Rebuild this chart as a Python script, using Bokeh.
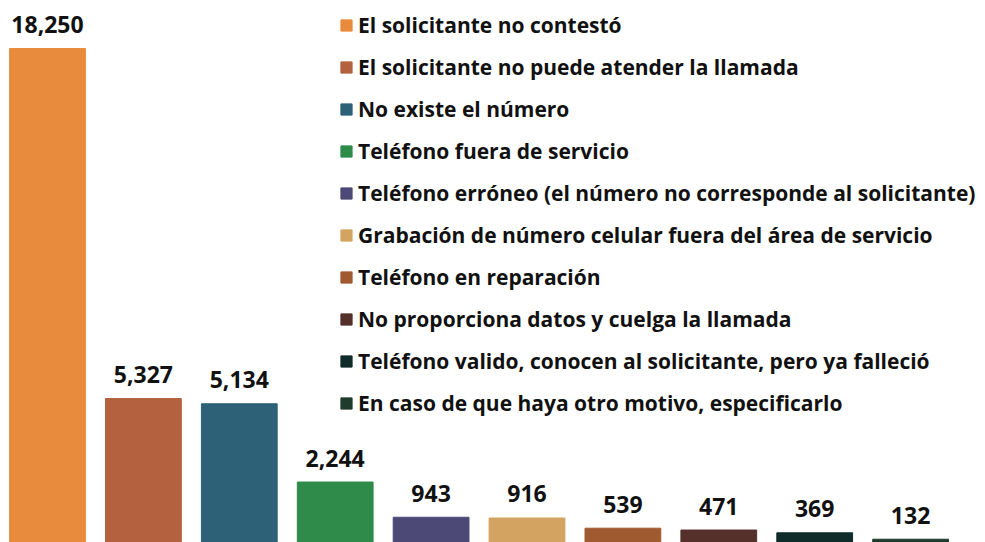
from bokeh.plotting import figure
from bokeh.models import Range1d, ColumnDataSource, Legend, LegendItem
from bokeh.core.properties import value
from bokeh.embed import file_html
from bokeh.resources import INLINE

categories = [
    "El solicitante no contestó",
    "El solicitante no puede atender la llamada",
    "No existe el número",
    "Teléfono fuera de servicio",
    "Teléfono erróneo (el número no corresponde al solicitante)",
    "Grabación de número celular fuera del área de servicio",
    "Teléfono en reparación",
    "No proporciona datos y cuelga la llamada",
    "Teléfono valido, conocen al solicitante, pero ya falleció",
    "En caso de que haya otro motivo, especificarlo",
]
values = [18250, 5327, 5134, 2244, 943, 916, 539, 471, 369, 132]
colors = ["#E98B3C", "#B3613F", "#2C6177", "#2F8B49", "#4C4976",
          "#D3A362", "#A05A30", "#55302A", "#0F2C2B", "#1E3B2C"]

idx = list(range(len(values)))
labels = [f"{v:,}" for v in values]

src = ColumnDataSource(dict(x=idx, top=values, color=colors, cat=categories, lab=labels))

p = figure(width=985, height=542, output_backend="svg", toolbar_location=None,
           x_range=Range1d(-0.490, 9.781), y_range=Range1d(11, 20022),
           min_border=0, min_border_left=0, min_border_right=0,
           min_border_top=0, min_border_bottom=0)
p.axis.visible = False
p.grid.visible = False
p.outline_line_color = None
p.background_fill_color = "white"
p.border_fill_color = "white"

r = p.vbar(x="x", top="top", bottom=0, width=0.79, color="color", source=src)

p.text(x="x", y="top", text="lab", source=src, text_align="center",
       text_baseline="alphabetic", y_offset=-24, text_font=value("Open Sans"),
       text_font_style="bold", text_font_size="23px", text_color="#111111")

items = [LegendItem(label=c, renderers=[r], index=i) for i, c in enumerate(categories)]
legend = Legend(items=items, location=(339, 124), orientation="vertical",
                glyph_width=14, glyph_height=14, label_height=30, spacing=12,
                label_standoff=5, padding=0, margin=0,
                border_line_alpha=0, background_fill_alpha=0,
                label_text_font="Open Sans", label_text_font_style="bold",
                label_text_font_size="21px", label_text_color="#111111")
p.add_layout(legend, "center")

open("out.html", "w").write(file_html(p, INLINE))
